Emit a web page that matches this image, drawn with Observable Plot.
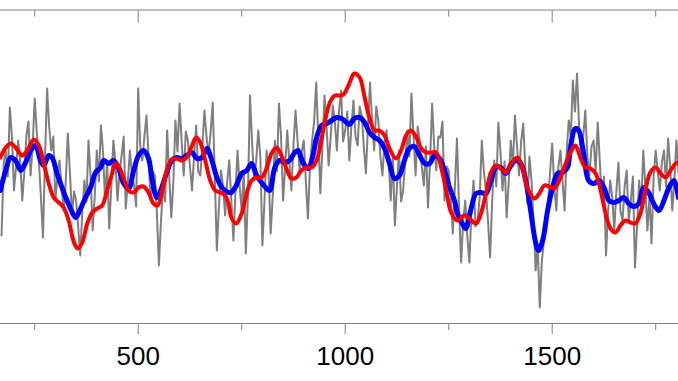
<!DOCTYPE html>
<html><head><meta charset="utf-8">
<script src="https://cdn.jsdelivr.net/npm/d3@7"></script>
<script src="https://cdn.jsdelivr.net/npm/@observablehq/plot@0.6"></script>
<style>body{margin:0;background:#fff;overflow:hidden}</style>
</head><body><div id="chart"></div>
<script>
// Raw gray series: one value every 5 years starting at 170
const grayStart = 170;
const grayStep = 5;
const grayValues = [
 -0.69,0.02, 0.16,-0.10, 0.59,0.30, -0.24,0.00, 0.26,0.05, -0.34,-0.05, 0.31,0.45, -0.09,0.20, 0.68,0.35, 0.06,-0.30,
 -0.71,0.10, 0.78,0.40, 0.16,0.30, -0.34,-0.10, 0.06,-0.20, -0.44,-0.15, 0.33,-0.05, -0.49,-0.25, -0.34,-0.60, -0.89,-0.45,
 -0.14,-0.35, 0.26,-0.10, -0.64,-0.30, 0.16,-0.15, 0.41,0.15, -0.34,0.05, -0.62,-0.20, 0.26,0.05, -0.34,-0.05, 0.11,0.30,
 -0.42,-0.15, 0.16,-0.10, -0.19,-0.40, 0.78,0.20, 0.06,0.30, 0.51,0.10, -0.34,-0.05, -0.09,-0.45, -0.99,-0.55, -0.19,-0.35,
 0.36,-0.10, -0.51,-0.15, 0.46,0.15, 0.63,0.25, -0.09,0.35, 0.26,0.00, -0.24,0.10, 0.41,-0.05, -0.09,0.20, 0.56,0.30,
 0.11,0.35, 0.64,-0.10, -0.84,-0.40, -0.04,-0.20, -0.49,-0.15, 0.06,-0.35, -0.74,-0.25, 0.16,-0.20, -0.44,-0.05, -0.87,-0.30,
 0.71,0.25, -0.14,0.05, 0.36,0.10, -0.79,-0.35, 0.16,-0.05, -0.67,-0.30, 0.26,-0.05, 0.63,0.30, -0.34,0.00, 0.36,0.05,
 -0.24,0.20, 0.56,0.25, -0.04,0.15, 0.26,-0.15, -0.52,0.00, 0.26,0.45, 0.84,0.30, -0.27,0.20, 0.71,0.40, 0.01,0.30,
 0.61,0.45, 0.16,0.55, 0.76,0.25, 0.36,0.55, 0.06,0.40, 0.66,0.30, 0.21,0.60, 0.51,0.20, -0.07,0.40, 0.84,0.45,
 0.16,0.60, 0.46,0.10, -0.09,0.25, 0.36,0.05, -0.34,0.10, -0.59,-0.20, 0.16,-0.35, -0.24,0.05, 0.36,0.10, 0.73,0.30,
 -0.09,0.40, 0.26,0.00, -0.19,0.20, -0.41,0.05, 0.63,0.20, -0.04,0.30, 0.29,0.45, -0.34,0.00, -0.04,-0.30, -0.67,-0.20,
 0.28,-0.40, -0.96,-0.55, -0.34,-0.70, -0.96,-0.45, -0.14,-0.60, -0.54,-0.30, 0.26,-0.05, -0.24,-0.55, -0.91,-0.35, 0.06,-0.20,
 0.44,0.15, -0.24,0.05, -0.51,-0.15, 0.26,0.00, 0.51,0.20, -0.09,0.25, 0.43,0.00, -0.37,0.10, -0.14,-0.55, -1.04,-0.80,
 -1.41,-0.95, -0.74,-0.55, -0.34,-0.05, 0.23,-0.20, -0.44,0.00, 0.16,-0.15, -0.44,0.15, 0.46,0.30, 0.86,0.55, 0.93,0.40,
 0.06,0.30, 0.56,0.10, -0.09,0.20, 0.26,-0.05, 0.44,0.05, -0.34,-0.10, -0.89,-0.45, -0.14,-0.30, -0.64,-0.25, 0.04,-0.45,
 -0.54,-0.20, -0.04,-0.55, -0.34,-0.10, -1.01,-0.60, -0.14,-0.40, 0.16,-0.20, -0.64,-0.30, -0.77,-0.10, 0.16,-0.05, -0.24,0.05,
 0.16,-0.20, 0.28,0.00, -0.44,-0.15, 0.26,-0.05, -0.24
];

// Blue smoothed series
const blueYears = [167,180,192,204,216,228,240,252,264,272,284,292,304,316,328,341,349,361,373,385,397,409,417,429,
 440,452,465,477,489,501,513,525,533,545,557,569,581,593,605,617,630,642,654,666,678,690,702,
 718,725,737,750,762,774,786,798,810,818,830,842,854,866,878,886,899,911,921,931,943,955,967,979,991,
 998,1010,1022,1035,1047,1059,1071,1083,1095,1107,1119,1131,1143,1155,1167,1180,1192,1204,1216,1228,1240,1252,1264,
 1271,1283,1291,1303,1316,1328,1340,1352,1364,1376,1388,1400,1412,1424,1436,1448,1459,1467,1477,1489,1501,1513,1525,1537,
 1544,1556,1564,1576,1588,1601,1613,1625,1637,1649,1661,1673,1685,1697,1709,1721,1733,1745,1758,1770,1782,1794,1805];
const blueValues = [-0.24,-0.04,0.09,0.06,-0.04,0.04,0.16,0.21,0.06,0.01,0.11,0.09,-0.07,-0.21,-0.34,-0.46,-0.51,-0.42,-0.31,-0.21,-0.06,-0.01,0.06,0.03,
 0.06,-0.01,-0.17,-0.22,-0.04,0.11,0.16,0.08,-0.11,-0.31,-0.21,-0.06,0.06,0.09,0.08,0.11,0.14,0.08,0.09,0.18,0.06,-0.11,-0.21,
 -0.26,-0.26,-0.19,-0.07,-0.04,0.03,-0.09,-0.16,-0.22,-0.24,-0.01,0.06,0.04,0.06,0.14,0.16,0.03,-0.02,0.09,0.29,0.41,0.43,0.46,0.49,0.48,
 0.46,0.42,0.48,0.49,0.44,0.34,0.29,0.26,0.18,0.03,-0.12,-0.09,0.06,0.18,0.20,0.11,0.03,0.03,0.11,0.08,-0.04,-0.21,-0.34,
 -0.47,-0.57,-0.62,-0.44,-0.27,-0.26,-0.27,-0.14,-0.01,-0.01,-0.07,0.01,0.06,0.03,-0.14,-0.44,-0.74,-0.84,-0.74,-0.44,-0.21,-0.07,-0.06,-0.01,
 0.19,0.38,0.36,0.13,-0.14,-0.17,-0.14,-0.21,-0.34,-0.36,-0.34,-0.31,-0.37,-0.40,-0.37,-0.21,-0.26,-0.37,-0.44,-0.34,-0.21,-0.14,-0.31];

// Red smoothed series
const redYears = [167,180,192,204,220,232,248,260,272,284,296,308,320,332,345,354,365,377,389,401,413,425,437,445,
 452,465,477,489,501,513,525,537,547,557,569,581,593,605,617,630,640,650,662,674,686,698,710,
 718,725,737,750,762,774,786,798,810,822,834,846,858,870,882,894,907,919,931,943,953,963,975,991,
 998,1010,1022,1035,1047,1059,1071,1083,1095,1107,1123,1135,1147,1159,1172,1184,1196,1208,1220,1232,1244,1256,
 1271,1287,1300,1316,1328,1340,1352,1364,1376,1388,1400,1416,1428,1440,1457,1469,1481,1493,1505,1517,1529,
 1544,1556,1568,1580,1593,1605,1617,1629,1641,1653,1665,1677,1689,1701,1713,1725,1737,1750,1762,1774,1786,1798,1805];
const redValues = [0.09,0.19,0.23,0.19,0.11,0.16,0.27,0.21,0.03,-0.17,-0.31,-0.36,-0.41,-0.54,-0.76,-0.82,-0.76,-0.57,-0.46,-0.42,-0.39,-0.24,-0.07,0.03,
 0.01,-0.12,-0.24,-0.26,-0.21,-0.20,-0.26,-0.37,-0.39,-0.26,-0.04,0.07,0.08,0.06,0.09,0.21,0.29,0.24,0.06,-0.14,-0.24,-0.26,-0.29,
 -0.37,-0.51,-0.57,-0.47,-0.27,-0.14,-0.11,-0.11,-0.02,0.13,0.19,0.11,-0.02,-0.12,-0.11,-0.04,-0.01,-0.01,0.06,0.28,0.49,0.64,0.71,0.71,
 0.73,0.83,0.93,0.89,0.69,0.48,0.36,0.36,0.31,0.18,0.08,0.16,0.31,0.36,0.29,0.18,0.14,0.14,0.14,-0.01,-0.24,-0.46,
 -0.54,-0.49,-0.52,-0.57,-0.47,-0.27,-0.06,0.01,-0.02,-0.06,0.03,0.09,-0.01,-0.21,-0.32,-0.27,-0.19,-0.20,-0.22,-0.14,-0.01,
 0.14,0.21,0.09,-0.01,-0.02,-0.07,-0.24,-0.47,-0.62,-0.66,-0.59,-0.54,-0.56,-0.57,-0.47,-0.24,-0.06,-0.01,-0.07,-0.11,-0.04,0.03,0.04];

const majorTicks = [500, 1000, 1500];
const minorTicks = [250, 750, 1250, 1750];
const xDomain = [167.4, 1805.1];
const yDomain = [-1.57, 1.565];

const gray = grayValues.map((v, i) => ({year: grayStart + grayStep * i, value: v}));
const blue = blueYears.map((y, i) => ({year: y, value: blueValues[i]}));
const red = redYears.map((y, i) => ({year: y, value: redValues[i]}));

const axisColor = "#808080";
const noText = () => "";
const chart = Plot.plot({
  width: 678,
  height: 381,
  marginLeft: 0,
  marginRight: 0,
  marginTop: 9.5,
  marginBottom: 58,
  style: {fontFamily: "'Liberation Sans', Arial, Helvetica, sans-serif", background: "#fff"},
  x: {domain: xDomain, label: null},
  y: {domain: yDomain, axis: null},
  marks: [
    Plot.line(gray, {x: "year", y: "value", stroke: "#7f7f7f", strokeWidth: 2, clip: true}),
    Plot.line(blue, {x: "year", y: "value", stroke: "#0000ff", strokeWidth: 5, curve: "catmull-rom", clip: true}),
    Plot.line(red, {x: "year", y: "value", stroke: "#ff0000", strokeWidth: 4, curve: "catmull-rom", clip: true}),
    Plot.ruleY(yDomain, {stroke: axisColor, strokeWidth: 1}),
    Plot.axisX(majorTicks, {anchor: "bottom", label: null, tickSize: 11, tickPadding: 12, fontSize: 26, tickFormat: d => String(d), stroke: axisColor, fill: "#000", strokeOpacity: 1}),
    Plot.axisX(minorTicks, {anchor: "bottom", label: null, tickSize: 7, tickFormat: noText, stroke: axisColor, strokeOpacity: 1}),
    Plot.axisX(majorTicks, {anchor: "top", label: null, tickSize: -12, tickFormat: noText, stroke: axisColor, strokeOpacity: 1}),
    Plot.axisX(minorTicks, {anchor: "top", label: null, tickSize: -6, tickFormat: noText, stroke: axisColor, strokeOpacity: 1})
  ]
});
document.getElementById("chart").appendChild(chart);
</script>
</body></html>
